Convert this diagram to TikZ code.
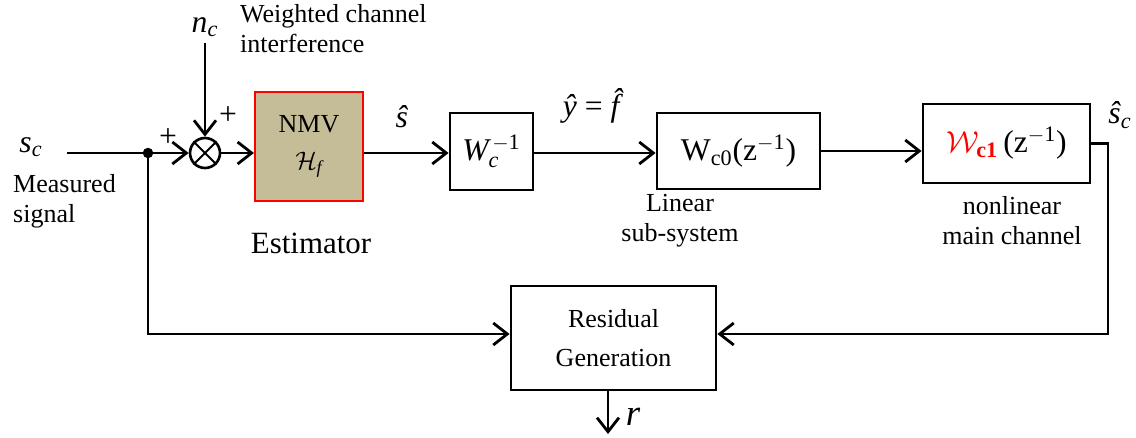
\documentclass[tikz,border=0pt]{standalone}
\usepackage{fontspec}
\setmainfont{Liberation Serif}
\definecolor{nmvtan}{RGB}{196,189,151}
\definecolor{nmvred}{RGB}{255,0,0}
\usetikzlibrary{arrows.meta,positioning,calc}

\begin{document}
\begin{tikzpicture}[font=\fontsize{14.8}{17}\selectfont,
  blk/.style={draw, line width=1.6pt, inner sep=0pt, align=center},
  sig/.style={line width=1.6pt, -{Straight Barb[length=8pt,width=12.5pt]}},
  wire/.style={line width=1.6pt},
  sym/.style={font=\fontsize{18}{20}\selectfont}]
  \useasboundingbox (0,0) rectangle (22.72,8.74);

  % Measured input
  \node[sym] (sc) at (0.62,5.8) {$\mathit{s}_{\mathit{c}}$};
  \node[anchor=west, align=left] (meas) at (0.14,4.72) {Measured\\signal};
  \coordinate (in) at (1.34,5.68);
  \node[circle, fill, inner sep=0pt, minimum size=0.21cm] (dot) at (2.96,5.68) {};

  % Summing junction with interference
  \node[circle, draw, line width=1.5pt, inner sep=0pt, minimum size=0.6cm] (sum) at (4.10,5.68) {};
  \draw[line width=1.2pt] (sum.north west) -- (sum.south east) (sum.north east) -- (sum.south west);
  \node[sym] (plusa) at (3.36,5.98) {+};
  \node[sym] (plusb) at (4.56,6.42) {+};
  \node[sym] (nc) at (4.10,8.2) {$\mathit{n}_{\mathit{c}}$};
  \node[anchor=west, align=left] (wci) at (4.68,8.16) {Weighted channel\\interference};

  % Estimator
  \node[blk, draw=nmvred, fill=nmvtan, line width=1.2pt, minimum width=2.16cm, minimum height=2.18cm] (nmv) at (6.18,5.81) {NMV\\[4pt]$\mathcal{H}_{\mathit{f}}$};
  \node[font=\fontsize{17.6}{20}\selectfont] (est) at (6.22,3.88) {Estimator};

  % Inverse weighting and channel blocks
  \node[blk, sym, minimum width=1.66cm, minimum height=1.54cm] (winv) at (9.83,5.71) {$\mathit{W}_{\mathit{c}}^{\,-\mathrm{1}}$};
  \node[sym] (shat) at (8.04,6.4) {\textit{\^{s}}};
  \node[blk, sym, minimum width=3.26cm, minimum height=1.52cm] (wco) at (14.77,5.72) {W\textsubscript{c0}(z\textsuperscript{$-\mathrm{1}$})};
  \node[sym] (yhat) at (11.94,6.62) {\textit{\^{y}} = \textit{\^{f}}};
  \node[align=center] (lin) at (13.6,4.32) {Linear\\sub-system};
  \node[blk, sym, minimum width=3.34cm, minimum height=1.58cm] (wci1) at (20.13,5.87) {{\color{nmvred}$\mathcal{W}_{\mathbf{c1}}$}\,(z\textsuperscript{$-\mathrm{1}$})};
  \node[align=center] (nlin) at (20.24,4.32) {nonlinear\\main channel};
  \node[sym] (schat) at (22.4,6.44) {\textit{\^{s}}\textsubscript{\textit{c}}};

  % Residual generation
  \node[blk, minimum width=4.1cm, minimum height=2.08cm] (res) at (12.27,1.98) {Residual\\[5pt]Generation};
  \coordinate (outc) at (22.16,2.06);
  \coordinate (rend) at (12.16,0.06);
  \node[font=\fontsize{21}{24}\selectfont] (r) at (12.66,0.4) {$\mathit{r}$};

  % Signal flow
  \draw[wire] (in) -- (dot.center);
  \draw[sig] (dot.center) -- (sum.west);
  \draw[sig] (nc) -- (sum.north);
  \draw[sig] (sum.east) -- (nmv.west |- sum);
  \draw[sig] (nmv.east |- sum) -- (winv.west |- sum);
  \draw[sig] (winv.east |- sum) -- (wco.west |- sum);
  \draw[sig] (wco.east) -- (wci1.west |- wco.east);
  \draw[sig] (wci1.east) -| (outc) -- (res.east |- outc);
  \draw[sig] (dot.center) |- (res.west |- outc);
  \draw[sig] (res.south -| rend) -- (rend);
\end{tikzpicture}
\end{document}
